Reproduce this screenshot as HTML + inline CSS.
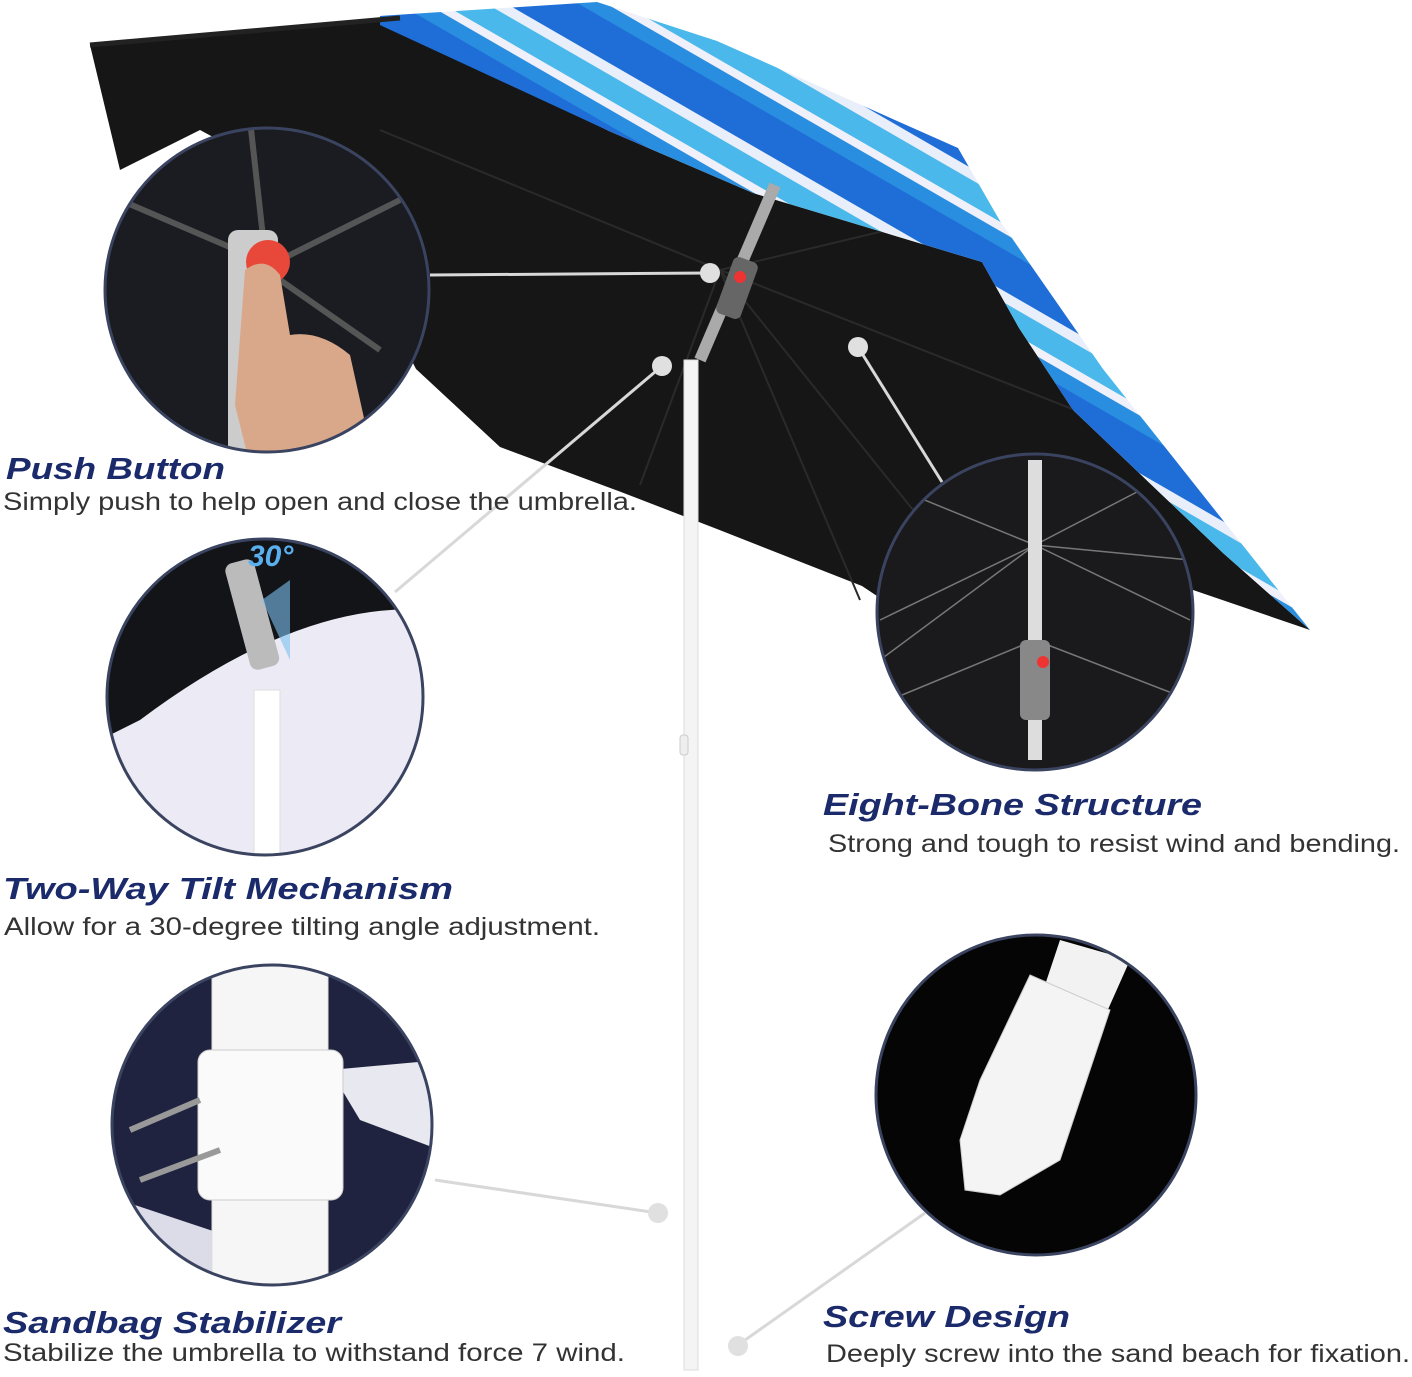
<!DOCTYPE html>
<html><head><meta charset="utf-8"><style>
html,body{margin:0;padding:0;background:#fff;}
svg{display:block;}
.t{font-family:"Liberation Sans",sans-serif;font-weight:bold;font-style:italic;fill:#1b2a6b;font-size:31px;}
.d{font-family:"Liberation Sans",sans-serif;fill:#333;font-size:25px;}
</style></head><body>
<svg width="1412" height="1377" viewBox="0 0 1412 1377" xmlns="http://www.w3.org/2000/svg">
<defs>
<pattern id="str" patternUnits="userSpaceOnUse" width="90" height="90" patternTransform="rotate(30)">
<rect width="90" height="90" fill="#1f6ed8"/>
<rect y="20" width="90" height="10" fill="#e8eefa"/>
<rect y="30" width="90" height="22" fill="#4ab8ea"/>
<rect y="52" width="90" height="8" fill="#f0f0fa"/>
<rect y="60" width="90" height="14" fill="#2a8ee0"/>
</pattern>
<clipPath id="c1"><circle cx="267" cy="290" r="162"/></clipPath>
<clipPath id="c2"><circle cx="265" cy="697" r="158"/></clipPath>
<clipPath id="c3"><circle cx="1035" cy="612" r="158"/></clipPath>
<clipPath id="c4"><circle cx="272" cy="1125" r="160"/></clipPath>
<clipPath id="c5"><circle cx="1036" cy="1095" r="160"/></clipPath>
</defs>
<rect width="1412" height="1377" fill="#fff"/>
<!-- canopy underside -->
<path d="M90,45 L380,20 L609,131 L753,193 L982,262 L1019,328 L1073,410 L1223,553 L1310,630 L1193,590 L1000,600 L880,598 L862,586 L717,529 L621,492 L500,447 L416,369 L330,200 L200,130 L120,170 Z" fill="#161616"/>
<path d="M380,130 L720,270 M720,270 L1000,618 M720,270 L640,485 M720,270 L860,600 M720,270 L1100,420 M720,270 L930,220" stroke="#2a2a2a" stroke-width="2"/>
<!-- blue top -->
<path d="M380,16 L597,2 L717,41 L958,148 L1000,221 L1103,369 L1310,630 L1223,553 L1073,410 L1019,328 L982,262 L753,193 L609,131 L380,25 Z" fill="url(#str)"/>
<path d="M90,45 L400,18" stroke="#222" stroke-width="5"/>
<!-- pole -->
<rect x="684" y="360" width="14" height="1010" fill="#f4f4f4" stroke="#ddd"/>
<rect x="680" y="735" width="8" height="20" rx="3" fill="#eee" stroke="#ccc"/>
<path d="M700,360 L775,185" stroke="#aaa" stroke-width="12"/>
<rect x="724" y="258" width="26" height="60" rx="6" fill="#666" transform="rotate(20 737 288)"/>
<circle cx="740" cy="277" r="6" fill="#e33"/>
<!-- connectors -->
<g stroke="#d8d8d8" stroke-width="3" fill="none">
<path d="M430,275 L710,273"/><path d="M395,592 L662,366"/><path d="M858,347 L942,482"/>
<path d="M435,1180 L658,1213"/><path d="M925,1213 L738,1345"/>
</g>
<g fill="#e0e0e0"><circle cx="710" cy="273" r="10"/><circle cx="662" cy="366" r="10"/><circle cx="858" cy="347" r="10"/><circle cx="658" cy="1213" r="10"/><circle cx="738" cy="1346" r="10"/></g>
<!-- circle 1 -->
<g clip-path="url(#c1)"><rect x="100" y="120" width="340" height="340" fill="#1a1c22"/>
<path d="M250,120 L270,300 M120,200 L260,260 M400,200 L280,260 M380,350 L280,280" stroke="#555" stroke-width="6"/>
<rect x="228" y="230" width="50" height="240" rx="10" fill="#ccc"/>
<circle cx="268" cy="262" r="22" fill="#e8483a"/>
<path d="M245,270 q20,-15 35,5 l10,60 q30,-5 60,20 l20,90 l-120,20 l-15,-60 z" fill="#d9a88a"/></g>
<circle cx="267" cy="290" r="162" fill="none" stroke="#3a4460" stroke-width="3"/>
<!-- circle 2 -->
<g clip-path="url(#c2)"><rect x="100" y="535" width="330" height="330" fill="#ecebf5"/>
<path d="M100,535 L430,535 L430,610 Q300,600 140,720 L100,740 Z" fill="#121418"/>
<rect x="254" y="690" width="26" height="170" fill="#fff" stroke="#ddd"/>
<rect x="236" y="560" width="30" height="110" rx="8" fill="#bbb" transform="rotate(-15 250 610)"/>
<path d="M262,600 L290,580 L290,660 Z" fill="#7cc0f0" opacity="0.6"/></g>
<circle cx="265" cy="697" r="158" fill="none" stroke="#3a4460" stroke-width="3"/>
<text x="248" y="566" font-family="Liberation Sans,sans-serif" font-weight="bold" font-style="italic" font-size="30" fill="#5ab0ee">30°</text>
<!-- circle 3 -->
<g clip-path="url(#c3)"><rect x="870" y="450" width="330" height="330" fill="#1a1a1c"/>
<g stroke="#777" stroke-width="1.5"><path d="M1035,545 L880,620 M1035,545 L880,660 M1035,545 L1190,620 M1035,545 L1190,560 M1035,545 L900,490 M1035,545 L1160,480 M1035,640 L890,700 M1035,640 L1190,700"/></g>
<rect x="1028" y="460" width="14" height="300" fill="#ddd"/>
<rect x="1020" y="640" width="30" height="80" rx="6" fill="#888"/><circle cx="1043" cy="662" r="6" fill="#e33"/></g>
<circle cx="1035" cy="612" r="158" fill="none" stroke="#3a4460" stroke-width="3"/>
<!-- circle 4 -->
<g clip-path="url(#c4)"><rect x="110" y="960" width="330" height="330" fill="#1f2340"/>
<path d="M330,1070 L440,1060 L440,1150 L360,1120 Z" fill="#e8e8f0"/>
<path d="M120,1200 L240,1240 L300,1290 L110,1290 Z" fill="#dcdce8"/>
<rect x="212" y="960" width="116" height="330" fill="#f6f6f6" stroke="#ddd"/>
<rect x="198" y="1050" width="145" height="150" rx="12" fill="#fafafa" stroke="#ccc"/>
<path d="M130,1130 L200,1100 M140,1180 L220,1150" stroke="#999" stroke-width="6"/></g>
<circle cx="272" cy="1125" r="160" fill="none" stroke="#3a4460" stroke-width="3"/>
<!-- circle 5 -->
<g clip-path="url(#c5)"><rect x="870" y="930" width="335" height="335" fill="#050505"/>
<path d="M1060,940 L1130,960 L1090,1050 L1030,1030 Z" fill="#f2f2f2"/>
<path d="M1030,975 L1110,1010 L1060,1160 L1000,1195 L965,1190 L960,1140 L980,1080 Z" fill="#f4f4f4" stroke="#ccc"/></g>
<circle cx="1036" cy="1095" r="160" fill="none" stroke="#3a4460" stroke-width="3"/>
<!-- text -->
<text class="t" x="6" y="479" textLength="219" lengthAdjust="spacingAndGlyphs">Push Button</text>
<text class="d" x="3" y="510" textLength="634" lengthAdjust="spacingAndGlyphs">Simply push to help open and close the umbrella.</text>
<text class="t" x="3" y="899" textLength="450" lengthAdjust="spacingAndGlyphs">Two-Way Tilt Mechanism</text>
<text class="d" x="4" y="935" textLength="596" lengthAdjust="spacingAndGlyphs">Allow for a 30-degree tilting angle adjustment.</text>
<text class="t" x="823" y="815" textLength="379" lengthAdjust="spacingAndGlyphs">Eight-Bone Structure</text>
<text class="d" x="828" y="852" textLength="572" lengthAdjust="spacingAndGlyphs">Strong and tough to resist wind and bending.</text>
<text class="t" x="3" y="1333" textLength="338" lengthAdjust="spacingAndGlyphs">Sandbag Stabilizer</text>
<text class="d" x="3" y="1361" textLength="622" lengthAdjust="spacingAndGlyphs">Stabilize the umbrella to withstand force 7 wind.</text>
<text class="t" x="823" y="1327" textLength="247" lengthAdjust="spacingAndGlyphs">Screw Design</text>
<text class="d" x="826" y="1362" textLength="584" lengthAdjust="spacingAndGlyphs">Deeply screw into the sand beach for fixation.</text>
</svg>
</body></html>
